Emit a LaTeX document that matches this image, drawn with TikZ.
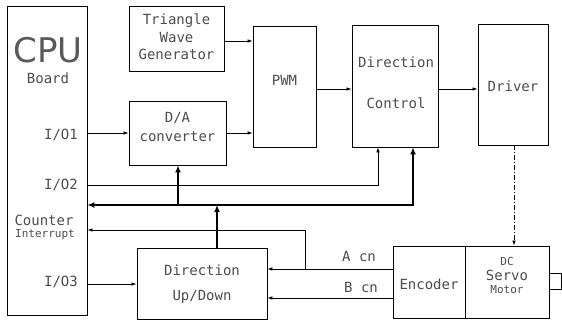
\documentclass[tikz,border=0pt]{standalone}
\usepackage{fontspec}
\usetikzlibrary{arrows.meta}
\newfontfamily\plotfont{DejaVu Sans Mono}
\newfontfamily\bigfont{DejaVu Sans}
\begin{document}
\begin{tikzpicture}[x=1pt,y=-1pt,
  box/.style={draw, line width=0.8pt, inner sep=0pt},
  lbl/.style={inner sep=0pt, font=\plotfont\fontsize{14}{14}\selectfont, text=black!70},
  slbl/.style={inner sep=0pt, font=\plotfont\fontsize{11}{11}\selectfont, text=black!70},
  arr/.style={line width=0.7pt, -{Latex[length=5pt,width=3.5pt]}},
  bus/.style={line width=2.4pt, {Latex[length=7pt,width=6pt]}-{Latex[length=7pt,width=6pt]}},
  busup/.style={line width=2.4pt, -{Latex[length=7pt,width=6pt]}},
  dasharr/.style={line width=0.7pt, dash pattern=on 5pt off 2pt on 1pt off 2pt, -{Latex[length=5pt,width=3.5pt]}}
]
\useasboundingbox (0,0) rectangle (562,324);
% boxes
\node[box, minimum width=80, minimum height=309] (cpu) at (47,160.5) {};
\node[box, minimum width=95, minimum height=65] (tri) at (176.5,38.5) {};
\node[box, minimum width=97, minimum height=64] (da) at (177.5,133) {};
\node[box, minimum width=63, minimum height=121] (pwm) at (284.5,86.5) {};
\node[box, minimum width=86, minimum height=122] (dc) at (395,86) {};
\node[box, minimum width=70, minimum height=121] (drv) at (513,84.5) {};
\node[box, minimum width=130, minimum height=71] (ud) at (202,283.5) {};
\node[box, minimum width=72, minimum height=72] (enc) at (429,282) {};
\node[box, minimum width=84, minimum height=72] (mot) at (507,282) {};
\node[box, minimum width=12, minimum height=16, anchor=west] (shaft) at (mot.east |- 0,281) {};
% labels
\node[inner sep=0pt, font=\bigfont\fontsize{34}{34}\selectfont, text=black!65] (tcpu) at (48,50) {CPU};
\node[lbl] (tboard) at (48,78) {Board};
\node[lbl] (tio1) at (61,135) {I/O1};
\node[lbl] (tio2) at (61,185) {I/O2};
\node[lbl] (tcnt) at (44,220) {Counter};
\node[slbl] (tint) at (45,235) {Interrupt};
\node[lbl] (tio3) at (61,282) {I/O3};
\node[lbl] (ttri1) at (176.5,21) {Triangle};
\node[lbl] (ttri2) at (176.5,37.5) {Wave};
\node[lbl] (ttri3) at (176.5,54) {Generator};
\node[lbl] (tda1) at (177.5,118) {D/A};
\node[lbl] (tda2) at (177.5,137) {converter};
\node[lbl] (tpwm) at (284.5,80) {PWM};
\node[lbl] (tdc1) at (396,62) {Direction};
\node[lbl] (tdc2) at (396,103) {Control};
\node[lbl] (tdrv) at (513,86) {Driver};
\node[lbl] (tud1) at (202,270) {Direction};
\node[lbl] (tud2) at (202,297) {Up/Down};
\node[lbl] (tenc) at (429,284) {Encoder};
\node[slbl] (tm1) at (507,261) {DC};
\node[lbl] (tm2) at (507,275.5) {Servo};
\node[slbl] (tm3) at (507,290) {Motor};
\node[lbl] (ta) at (359,256) {A cn};
\node[lbl] (tb) at (361,287) {B cn};
% connectors
\draw[arr] (tri.east |- 0,41) -- (pwm.west |- 0,41);
\draw[arr] (da.east) -- (da.east -| pwm.west);
\draw[arr] (cpu.east |- da.west) -- (da.west);
\draw[arr] (pwm.east |- 0,89) -- (dc.west |- 0,89);
\draw[arr] (dc.east |- 0,89) -- (drv.west |- 0,89);
\draw[dasharr] (drv.south -| 514,0) -- (mot.north -| 514,0);
\coordinate (p2) at (378,185);
\draw[arr] (cpu.east |- p2) -- (p2) -- (p2 |- dc.south);
\coordinate (b1) at (413,205);
\draw[bus] (cpu.east |- b1) -- (b1) -- (b1 |- dc.south);
\coordinate (b2) at (178,205);
\draw[busup] (b2) -- (b2 |- da.south);
\coordinate (b3) at (217,205);
\draw[busup] (b3 |- ud.north) -- (b3);
\coordinate (a1) at (305,269);
\draw[arr] (enc.west |- a1) -- (a1 -| ud.east);
\coordinate (c1) at (305,230);
\draw[arr] (a1) -- (c1) -- (c1 -| cpu.east);
\coordinate (bb) at (330,298);
\draw[arr] (enc.west |- bb) -- (bb -| ud.east);
\coordinate (io3) at (100,284);
\draw[arr] (cpu.east |- io3) -- (io3 -| ud.west);
\end{tikzpicture}
\end{document}
